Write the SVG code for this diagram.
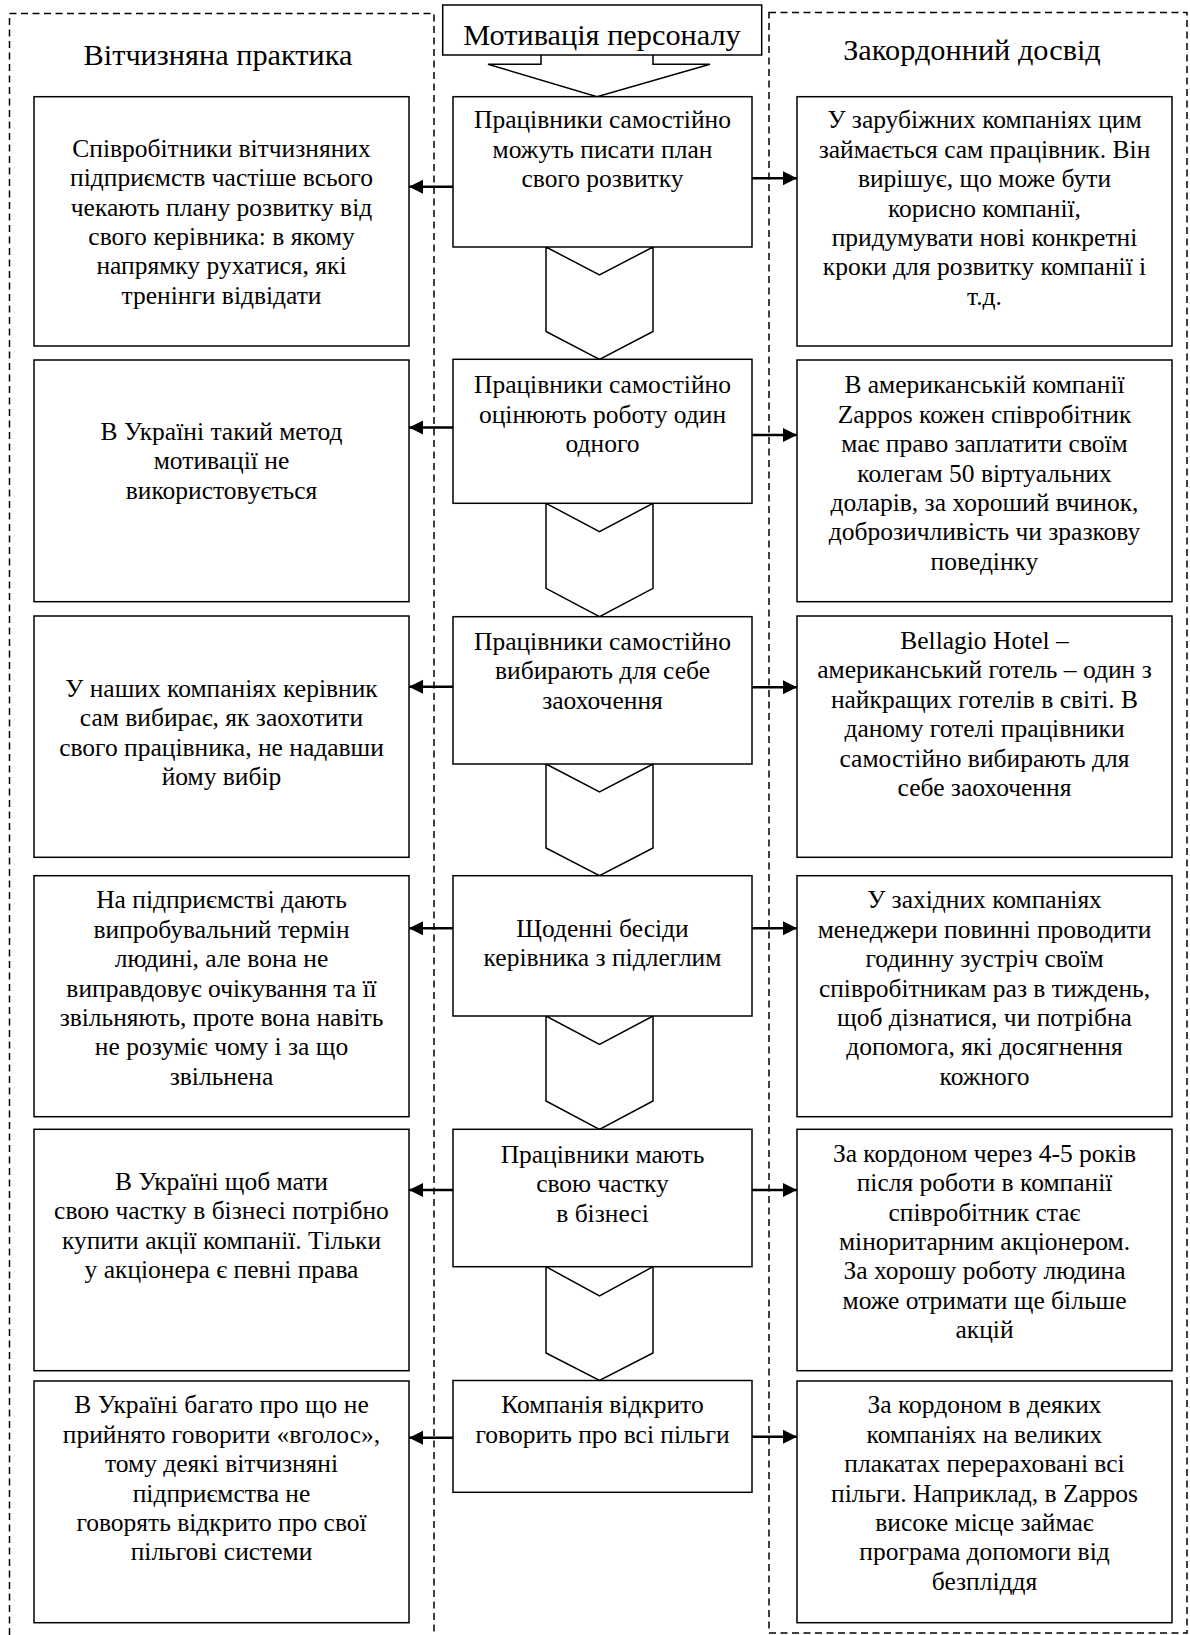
<svg xmlns="http://www.w3.org/2000/svg" width="1190" height="1635" viewBox="0 0 1190 1635">
<style>
.bg{fill:#fff}
.box{fill:#fff;stroke:#000;stroke-width:1.5}
.chev{fill:#fff;stroke:#000;stroke-width:1.5;stroke-linejoin:miter}
.lane{fill:none;stroke:#000;stroke-width:1.5;stroke-dasharray:7 4.5}
.arr{fill:none;stroke:#000;stroke-width:2.5}
.t{font-family:"Liberation Serif","Times New Roman",serif;font-size:25.5px;fill:#000;text-anchor:middle}
.h{font-family:"Liberation Serif","Times New Roman",serif;font-size:30.3px;fill:#000;text-anchor:middle}
</style>
<defs>
<marker id="ah" markerUnits="userSpaceOnUse" markerWidth="15" markerHeight="15" refX="14" refY="7" orient="auto">
<path d="M0,0 L14,7 L0,14 z" fill="#000"/>
</marker>
</defs>
<rect class="bg" x="0" y="0" width="1190" height="1635"/>
<g id="lanes">
<path class="lane" d="M9.5,1635 V13.5 H434 V1635"/>
<rect class="lane" x="769" y="12.5" width="418" height="1620.5"/>
<text class="h" x="218" y="65">Вітчизняна практика</text>
<text class="h" x="972" y="60">Закордонний досвід</text>
</g>
<g id="chevrons">
<polygon class="chev" points="541,50 541,64.3 488,64.3 597,96.7 710,64.3 653,64.3 653,50"/>
<polygon class="chev" points="546,247 599.5,275 653,247 653,331.5 599.5,359.3 546,331.5"/>
<polygon class="chev" points="546,503.3 599.5,531.7 653,503.3 653,588.3 599.5,616.7 546,588.3"/>
<polygon class="chev" points="546,764 599.5,792 653,764 653,848 599.5,875.7 546,848"/>
<polygon class="chev" points="546,1016 599.5,1044.3 653,1016 653,1101 599.5,1129.3 546,1101"/>
<polygon class="chev" points="546,1266.7 599.5,1296 653,1266.7 653,1353 599.5,1380.5 546,1353"/>
</g>
<g id="connectors">
<line class="arr" x1="453" y1="186.7" x2="409" y2="186.7" marker-end="url(#ah)"/>
<line class="arr" x1="752" y1="178.3" x2="797" y2="178.3" marker-end="url(#ah)"/>
<line class="arr" x1="453" y1="427.5" x2="409" y2="427.5" marker-end="url(#ah)"/>
<line class="arr" x1="752" y1="435" x2="797" y2="435" marker-end="url(#ah)"/>
<line class="arr" x1="453" y1="686.7" x2="409" y2="686.7" marker-end="url(#ah)"/>
<line class="arr" x1="752" y1="687.3" x2="797" y2="687.3" marker-end="url(#ah)"/>
<line class="arr" x1="453" y1="928.3" x2="409" y2="928.3" marker-end="url(#ah)"/>
<line class="arr" x1="752" y1="928.3" x2="797" y2="928.3" marker-end="url(#ah)"/>
<line class="arr" x1="453" y1="1190" x2="409" y2="1190" marker-end="url(#ah)"/>
<line class="arr" x1="752" y1="1190" x2="797" y2="1190" marker-end="url(#ah)"/>
<line class="arr" x1="453" y1="1437.7" x2="409" y2="1437.7" marker-end="url(#ah)"/>
<line class="arr" x1="752" y1="1436.7" x2="797" y2="1436.7" marker-end="url(#ah)"/>
</g>
<g id="title">
<rect class="box" x="442.7" y="5" width="319" height="50"/>
<text class="h" x="602" y="45">Мотивація персоналу</text>
</g>
<g id="c1">
<rect class="box" x="453" y="96.7" width="299" height="150.3"/>
<text class="t" x="602.5" y="128.3"><tspan x="602.5">Працівники самостійно</tspan><tspan x="602.5" dy="29.4">можуть писати план</tspan><tspan x="602.5" dy="29.4">свого розвитку</tspan></text>
</g>
<g id="c2">
<rect class="box" x="453" y="359.3" width="299" height="144"/>
<text class="t" x="602.5" y="393.3"><tspan x="602.5">Працівники самостійно</tspan><tspan x="602.5" dy="29.4">оцінюють роботу один</tspan><tspan x="602.5" dy="29.4">одного</tspan></text>
</g>
<g id="c3">
<rect class="box" x="453" y="616.7" width="299" height="147.3"/>
<text class="t" x="602.5" y="650"><tspan x="602.5">Працівники самостійно</tspan><tspan x="602.5" dy="29.4">вибирають для себе</tspan><tspan x="602.5" dy="29.4">заохочення</tspan></text>
</g>
<g id="c4">
<rect class="box" x="453" y="875.7" width="299" height="140.3"/>
<text class="t" x="602.5" y="936.7"><tspan x="602.5">Щоденні бесіди</tspan><tspan x="602.5" dy="29.4">керівника з підлеглим</tspan></text>
</g>
<g id="c5">
<rect class="box" x="453" y="1129.3" width="299" height="137.4"/>
<text class="t" x="602.5" y="1162.7"><tspan x="602.5">Працівники мають</tspan><tspan x="602.5" dy="29.4">свою частку</tspan><tspan x="602.5" dy="29.4">в бізнесі</tspan></text>
</g>
<g id="c6">
<rect class="box" x="453" y="1380.5" width="299" height="111.8"/>
<text class="t" x="602.5" y="1413.3"><tspan x="602.5">Компанія відкрито</tspan><tspan x="602.5" dy="29.4">говорить про всі пільги</tspan></text>
</g>
<g id="l1">
<rect class="box" x="34" y="96.7" width="375" height="249.3"/>
<text class="t" x="221.5" y="156.7"><tspan x="221.5">Співробітники вітчизняних</tspan><tspan x="221.5" dy="29.4">підприємств частіше всього</tspan><tspan x="221.5" dy="29.4">чекають плану розвитку від</tspan><tspan x="221.5" dy="29.4">свого керівника: в якому</tspan><tspan x="221.5" dy="29.4">напрямку рухатися, які</tspan><tspan x="221.5" dy="29.4">тренінги відвідати</tspan></text>
</g>
<g id="l2">
<rect class="box" x="34" y="360" width="375" height="241.7"/>
<text class="t" x="221.5" y="440"><tspan x="221.5">В Україні такий метод</tspan><tspan x="221.5" dy="29.4">мотивації не</tspan><tspan x="221.5" dy="29.4">використовується</tspan></text>
</g>
<g id="l3">
<rect class="box" x="34" y="616" width="375" height="241.3"/>
<text class="t" x="221.5" y="696.7"><tspan x="221.5">У наших компаніях керівник</tspan><tspan x="221.5" dy="29.4">сам вибирає, як заохотити</tspan><tspan x="221.5" dy="29.4">свого працівника, не надавши</tspan><tspan x="221.5" dy="29.4">йому вибір</tspan></text>
</g>
<g id="l4">
<rect class="box" x="34" y="875.7" width="375" height="241"/>
<text class="t" x="221.5" y="908.3"><tspan x="221.5">На підприємстві дають</tspan><tspan x="221.5" dy="29.4">випробувальний термін</tspan><tspan x="221.5" dy="29.4">людині, але вона не</tspan><tspan x="221.5" dy="29.4">виправдовує очікування та її</tspan><tspan x="221.5" dy="29.4">звільняють, проте вона навіть</tspan><tspan x="221.5" dy="29.4">не розуміє чому і за що</tspan><tspan x="221.5" dy="29.4">звільнена</tspan></text>
</g>
<g id="l5">
<rect class="box" x="34" y="1129.3" width="375" height="241.4"/>
<text class="t" x="221.5" y="1190"><tspan x="221.5">В Україні щоб мати</tspan><tspan x="221.5" dy="29.4">свою частку в бізнесі потрібно</tspan><tspan x="221.5" dy="29.4">купити акції компанії. Тільки</tspan><tspan x="221.5" dy="29.4">у акціонера є певні права</tspan></text>
</g>
<g id="l6">
<rect class="box" x="34" y="1381" width="375" height="241.7"/>
<text class="t" x="221.5" y="1413.3"><tspan x="221.5">В Україні багато про що не</tspan><tspan x="221.5" dy="29.4">прийнято говорити «вголос»,</tspan><tspan x="221.5" dy="29.4">тому деякі вітчизняні</tspan><tspan x="221.5" dy="29.4">підприємства не</tspan><tspan x="221.5" dy="29.4">говорять відкрито про свої</tspan><tspan x="221.5" dy="29.4">пільгові системи</tspan></text>
</g>
<g id="r1">
<rect class="box" x="797" y="96.7" width="375" height="249.3"/>
<text class="t" x="984.5" y="128.3"><tspan x="984.5">У зарубіжних компаніях цим</tspan><tspan x="984.5" dy="29.4">займається сам працівник. Він</tspan><tspan x="984.5" dy="29.4">вирішує, що може бути</tspan><tspan x="984.5" dy="29.4">корисно компанії,</tspan><tspan x="984.5" dy="29.4">придумувати нові конкретні</tspan><tspan x="984.5" dy="29.4">кроки для розвитку компанії і</tspan><tspan x="984.5" dy="29.4">т.д.</tspan></text>
</g>
<g id="r2">
<rect class="box" x="797" y="360" width="375" height="241.7"/>
<text class="t" x="984.5" y="393.3"><tspan x="984.5">В американській компанії</tspan><tspan x="984.5" dy="29.4">Zappos кожен співробітник</tspan><tspan x="984.5" dy="29.4">має право заплатити своїм</tspan><tspan x="984.5" dy="29.4">колегам 50 віртуальних</tspan><tspan x="984.5" dy="29.4">доларів, за хороший вчинок,</tspan><tspan x="984.5" dy="29.4">доброзичливість чи зразкову</tspan><tspan x="984.5" dy="29.4">поведінку</tspan></text>
</g>
<g id="r3">
<rect class="box" x="797" y="616" width="375" height="241.3"/>
<text class="t" x="984.5" y="649"><tspan x="984.5">Bellagio Hotel –</tspan><tspan x="984.5" dy="29.4">американський готель – один з</tspan><tspan x="984.5" dy="29.4">найкращих готелів в світі. В</tspan><tspan x="984.5" dy="29.4">даному готелі працівники</tspan><tspan x="984.5" dy="29.4">самостійно вибирають для</tspan><tspan x="984.5" dy="29.4">себе заохочення</tspan></text>
</g>
<g id="r4">
<rect class="box" x="797" y="875.7" width="375" height="241"/>
<text class="t" x="984.5" y="908.3"><tspan x="984.5">У західних компаніях</tspan><tspan x="984.5" dy="29.4">менеджери повинні проводити</tspan><tspan x="984.5" dy="29.4">годинну зустріч своїм</tspan><tspan x="984.5" dy="29.4">співробітникам раз в тиждень,</tspan><tspan x="984.5" dy="29.4">щоб дізнатися, чи потрібна</tspan><tspan x="984.5" dy="29.4">допомога, які досягнення</tspan><tspan x="984.5" dy="29.4">кожного</tspan></text>
</g>
<g id="r5">
<rect class="box" x="797" y="1129.3" width="375" height="241.4"/>
<text class="t" x="984.5" y="1161.7"><tspan x="984.5">За кордоном через 4-5 років</tspan><tspan x="984.5" dy="29.4">після роботи в компанії</tspan><tspan x="984.5" dy="29.4">співробітник стає</tspan><tspan x="984.5" dy="29.4">міноритарним акціонером.</tspan><tspan x="984.5" dy="29.4">За хорошу роботу людина</tspan><tspan x="984.5" dy="29.4">може отримати ще більше</tspan><tspan x="984.5" dy="29.4">акцій</tspan></text>
</g>
<g id="r6">
<rect class="box" x="797" y="1381" width="375" height="241.7"/>
<text class="t" x="984.5" y="1413.3"><tspan x="984.5">За кордоном в деяких</tspan><tspan x="984.5" dy="29.4">компаніях на великих</tspan><tspan x="984.5" dy="29.4">плакатах перераховані всі</tspan><tspan x="984.5" dy="29.4">пільги. Наприклад, в Zappos</tspan><tspan x="984.5" dy="29.4">високе місце займає</tspan><tspan x="984.5" dy="29.4">програма допомоги від</tspan><tspan x="984.5" dy="29.4">безпліддя</tspan></text>
</g>
</svg>
